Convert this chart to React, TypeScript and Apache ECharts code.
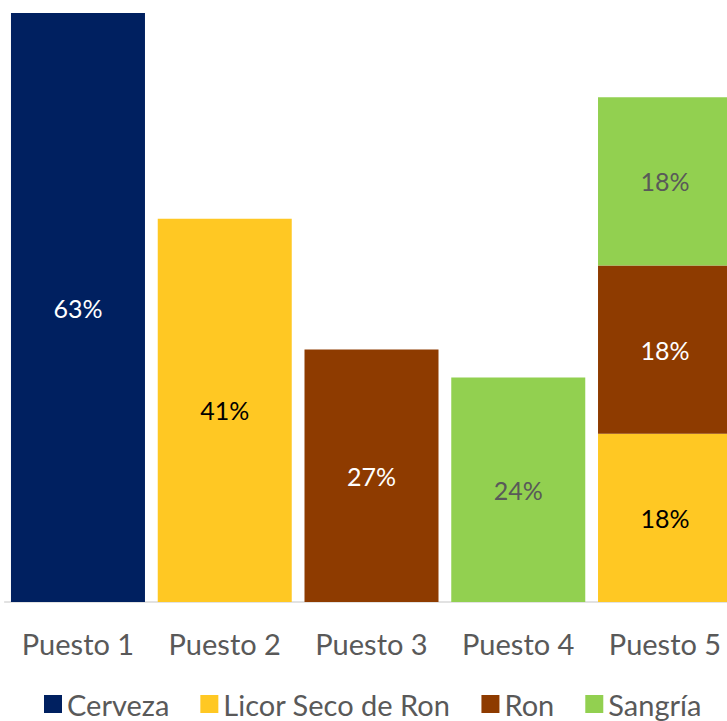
import React, { useEffect, useRef } from "react";
import * as echarts from "echarts";

const categories = ["Puesto 1", "Puesto 2", "Puesto 3", "Puesto 4", "Puesto 5"];
const cerveza = [63, null, null, null, null];
const licor = [null, 41, null, null, 18];
const ron = [null, null, 27, null, 18];
const sangria = [null, null, null, 24, 18];

const FONT = "Lato";

export default function App() {
  const ref = useRef<HTMLDivElement>(null);
  useEffect(() => {
    document.body.style.margin = "0";
    document.body.style.overflow = "hidden";
    const chart = echarts.init(ref.current!, null, { renderer: "svg" });
    const mk = (name: string, data: (number | null)[], color: string, labelColor: string) => ({
      name,
      type: "bar",
      stack: "total",
      data,
      barWidth: 134,
      itemStyle: { color },
      label: {
        show: true,
        position: "inside",
        formatter: (p: any) => (p.value == null ? "" : p.value + "%"),
        color: labelColor,
        fontFamily: FONT,
        fontSize: 25,
      },
    });
    chart.setOption({
      animation: false,
      textStyle: { fontFamily: FONT },
      grid: { left: 4.6, right: 0.6, top: 13, bottom: 119, containLabel: false },
      legend: {
        top: 686,
        left: 39,
        padding: [2, 5, 2, 5],
        itemWidth: 18,
        itemHeight: 18,
        itemGap: 31,
        icon: "rect",
        textStyle: { color: "#595959", fontSize: 29, fontFamily: FONT, lineHeight: 32 },
        data: ["Cerveza", "Licor Seco de Ron", "Ron", "Sangría"],
      },
      xAxis: {
        type: "category",
        data: categories,
        axisLine: { lineStyle: { color: "#D9D9D9", width: 1.5 } },
        axisTick: { show: false },
        axisLabel: { color: "#595959", fontSize: 29, fontFamily: FONT, margin: 27 },
      },
      yAxis: { type: "value", min: 0, max: 63, show: false, splitLine: { show: false } },
      series: [
        mk("Cerveza", cerveza, "#002060", "#FFFFFF"),
        mk("Licor Seco de Ron", licor, "#FFC823", "#000000"),
        mk("Ron", ron, "#8E3B00", "#FFFFFF"),
        mk("Sangría", sangria, "#92D050", "#595959"),
      ],
    });
    return () => chart.dispose();
  }, []);
  return <div ref={ref} style={{ width: 739, height: 721 }} />;
}
